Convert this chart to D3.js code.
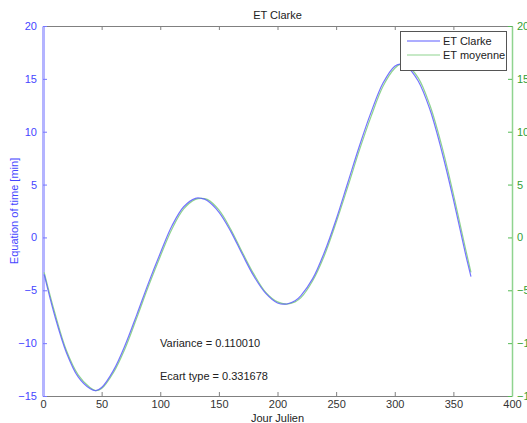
<!DOCTYPE html>
<html><head><meta charset="utf-8">
<script src="https://cdn.jsdelivr.net/npm/d3@7"></script>
<style>body{margin:0;background:#fff;}svg text{font-family:"Liberation Sans",Arial,sans-serif;}</style>
</head><body>
<svg id="c" width="527" height="423"></svg>
<script>
const days = [1,10,20,30,40,45,50,60,70,80,90,100,110,120,130,135,140,150,160,170,180,190,200,208,215,220,230,240,250,260,270,280,290,300,305,310,320,330,340,350,360,365];
const etClarke = [-3.5,-7.4,-10.9,-13.2,-14.3,-14.5,-14.2,-12.6,-10.2,-7.3,-4.3,-1.5,1.1,2.9,3.7,3.7,3.5,2.4,0.6,-1.6,-3.7,-5.3,-6.2,-6.3,-6.0,-5.5,-3.9,-1.4,1.7,5.2,8.7,11.9,14.6,16.2,16.4,16.2,14.8,12.1,8.2,3.6,-1.4,-3.7];
const etMoyenne = [-3.3,-7.1,-10.7,-13.0,-14.2,-14.5,-14.3,-12.8,-10.5,-7.6,-4.6,-1.8,0.8,2.7,3.6,3.7,3.6,2.6,0.8,-1.4,-3.5,-5.2,-6.1,-6.3,-6.1,-5.7,-4.1,-1.7,1.4,4.8,8.3,11.5,14.3,16.0,16.4,16.3,15.1,12.5,8.7,4.1,-0.9,-3.3];
const xTicks = [0,50,100,150,200,250,300,350,400];
const yTicks = [-15,-10,-5,0,5,10,15,20];
const seriesNames = ["ET Clarke","ET moyenne"];
const seriesColors = ["#5c5cff","#8fd48f"];
const stats = ["Variance = 0.110010","Ecart type = 0.331678"];

const svg = d3.select("#c");
const L=43, R=512, T=26, B=396;
const x = d3.scaleLinear().domain([0,400]).range([L,R]);
const y = d3.scaleLinear().domain([-15,20]).range([B,T]);

// top & bottom axes
const gBottom = svg.append("g").attr("transform",`translate(0,${B})`)
  .call(d3.axisBottom(x).tickValues(xTicks).tickSizeInner(-4).tickSizeOuter(0).tickPadding(4));
gBottom.select(".domain").attr("stroke","#808080");
gBottom.selectAll(".tick line").attr("stroke","#808080");
gBottom.selectAll("text").attr("font-size",11).attr("fill","#333");
const gTop = svg.append("g").attr("transform",`translate(0,${T})`)
  .call(d3.axisTop(x).tickValues(xTicks).tickSizeInner(-4).tickSizeOuter(0).tickFormat(""));
gTop.select(".domain").attr("stroke","#808080");
gTop.selectAll(".tick line").attr("stroke","#808080");

// left axis (blue)
const gLeft = svg.append("g").attr("transform",`translate(${L},0)`)
  .call(d3.axisLeft(y).tickValues(yTicks).tickSizeInner(-4).tickSizeOuter(0).tickPadding(3));
gLeft.select(".domain").attr("stroke","#b4b4ff").attr("stroke-width",3);
gLeft.selectAll(".tick line").attr("stroke","#7777ff");
gLeft.selectAll("text").attr("font-size",11).attr("fill","#4646ff").attr("dx",-3);

// right axis (green)
const gRight = svg.append("g").attr("transform",`translate(${R},0)`)
  .call(d3.axisRight(y).tickValues(yTicks).tickSizeInner(-4).tickSizeOuter(0).tickPadding(5));
gRight.select(".domain").attr("stroke","#8fd48f").attr("stroke-width",1.5);
gRight.selectAll(".tick line").attr("stroke","#55bb55");
gRight.selectAll("text").attr("font-size",11).attr("fill","#33a033");

// lines
const lineGen = vals => d3.line().x((d,i)=>x(days[i])).y(d=>y(d)).curve(d3.curveCatmullRom.alpha(0.5))(vals);
svg.append("path").attr("d",lineGen(etMoyenne)).attr("fill","none").attr("stroke",seriesColors[1]).attr("stroke-width",1.2);
svg.append("path").attr("d",lineGen(etClarke)).attr("fill","none").attr("stroke",seriesColors[0]).attr("stroke-width",1.2).attr("stroke-opacity",0.85);

// title & labels
svg.append("text").attr("x",(L+R)/2).attr("y",19).attr("text-anchor","middle").attr("font-size",11).attr("fill","#222").text("ET Clarke");
svg.append("text").attr("x",(L+R)/2).attr("y",422).attr("text-anchor","middle").attr("font-size",11).attr("fill","#222").text("Jour Julien");
svg.append("text").attr("transform",`translate(18,${(T+B)/2}) rotate(-90)`).attr("text-anchor","middle").attr("font-size",11).attr("fill","#4646ff").text("Equation of time [min]");

// stats text
svg.append("text").attr("x",160).attr("y",347).attr("font-size",11).attr("fill","#222").text(stats[0]);
svg.append("text").attr("x",160).attr("y",380).attr("font-size",11).attr("fill","#222").text(stats[1]);

// legend
const lg = svg.append("g");
lg.append("rect").attr("x",400.5).attr("y",31.5).attr("width",106).attr("height",39).attr("fill","#fff").attr("stroke","#555");
seriesNames.forEach((n,i)=>{
  const yy = 41 + i*14;
  lg.append("line").attr("x1",407).attr("x2",440).attr("y1",yy).attr("y2",yy).attr("stroke",seriesColors[i]).attr("stroke-width",1.2);
  lg.append("text").attr("x",443).attr("y",yy+4).attr("font-size",11).attr("fill","#222").text(n);
});
</script>
</body></html>
